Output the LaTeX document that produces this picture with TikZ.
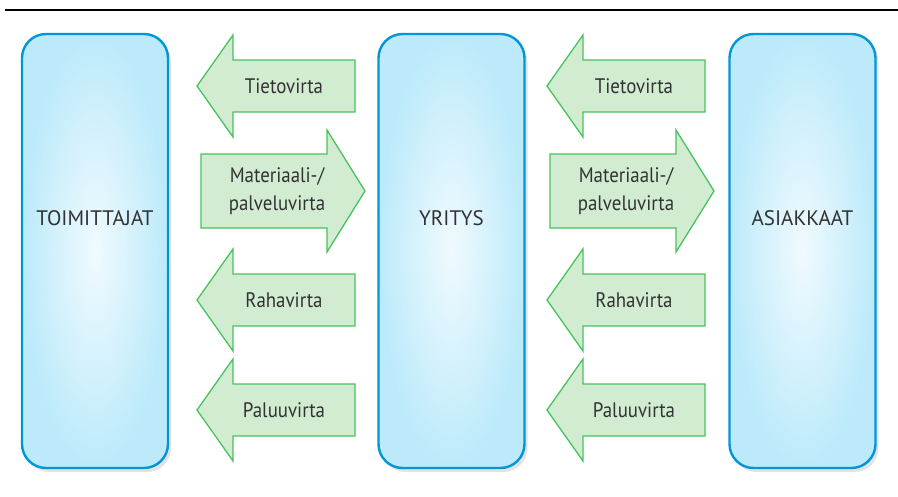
\documentclass[tikz,border=0pt]{standalone}
\usepackage{fontspec}
\setmainfont{PT Sans}
\newfontfamily\narrowfont[FakeStretch=0.9]{PT Sans}
\usepackage{tikz}
\usetikzlibrary{shadows}
\definecolor{boxline}{RGB}{0,150,215}
\definecolor{boxouter}{RGB}{188,234,250}
\definecolor{boxinner}{RGB}{240,250,255}
\definecolor{flowfill}{RGB}{210,236,210}
\definecolor{flowline}{RGB}{70,195,90}
\definecolor{labeltext}{RGB}{50,50,50}
% block arrows, pointing left (tip given) or right (tail given)
\newcommand{\flowleft}[4]{%
  \draw[flowarrow] (#2,#3) -- ++(36,-51) -- ++(0,25) -- ++(122,0) -- ++(0,52)
        -- ++(-122,0) -- ++(0,25) -- cycle;
  \node[flowtext] (#1) at (#2+87,#3) {#4};}
\newcommand{\flowright}[4]{%
  \draw[flowarrow] (#2,#3-37) -- ++(126,0) -- ++(0,-24) -- ++(38,61) -- ++(-38,61)
        -- ++(0,-24) -- ++(-126,0) -- cycle;
  \node[flowtext] (#1) at (#2+76,#3) {#4};}

\begin{document}
\begin{tikzpicture}[x=1pt,y=-1pt,
    party/.style={draw=boxline, line width=2.4pt, rounded corners=24pt,
      minimum width=146pt, minimum height=434pt, inner color=boxinner,
      outer color=boxouter,
      drop shadow={opacity=0.22, shadow xshift=3pt, shadow yshift=-4pt}},
    partytext/.style={text=labeltext, font=\fontsize{21}{25}\selectfont},
    flowarrow/.style={draw=flowline, fill=flowfill, line width=1.3pt, line join=miter},
    flowtext/.style={text=labeltext, align=center, font=\narrowfont\fontsize{21}{28}\selectfont}]
  \useasboundingbox (0,0) rectangle (898,496);
  \draw[line width=1.4pt] (5,10) -- (898,10);

  \node[party] (supplier) at (95,251) {};
  \node[party] (firm) at (451.5,251) {};
  \node[party] (customer) at (802.5,251) {};
  \node[partytext] (suppliername) at (95,218) {TOIMITTAJAT};
  \node[partytext] (firmname) at (451.5,218) {YRITYS};
  \node[partytext] (customername) at (802.5,218) {ASIAKKAAT};

  \flowleft{infoA}{197}{86}{Tietovirta}
  \flowright{goodsA}{201}{191}{Materiaali-/\\palveluvirta}
  \flowleft{moneyA}{197}{300}{Rahavirta}
  \flowleft{returnA}{197}{410}{Paluuvirta}

  \flowleft{infoB}{547}{86}{Tietovirta}
  \flowright{goodsB}{550}{191}{Materiaali-/\\palveluvirta}
  \flowleft{moneyB}{547}{300}{Rahavirta}
  \flowleft{returnB}{547}{410}{Paluuvirta}
\end{tikzpicture}
\end{document}
